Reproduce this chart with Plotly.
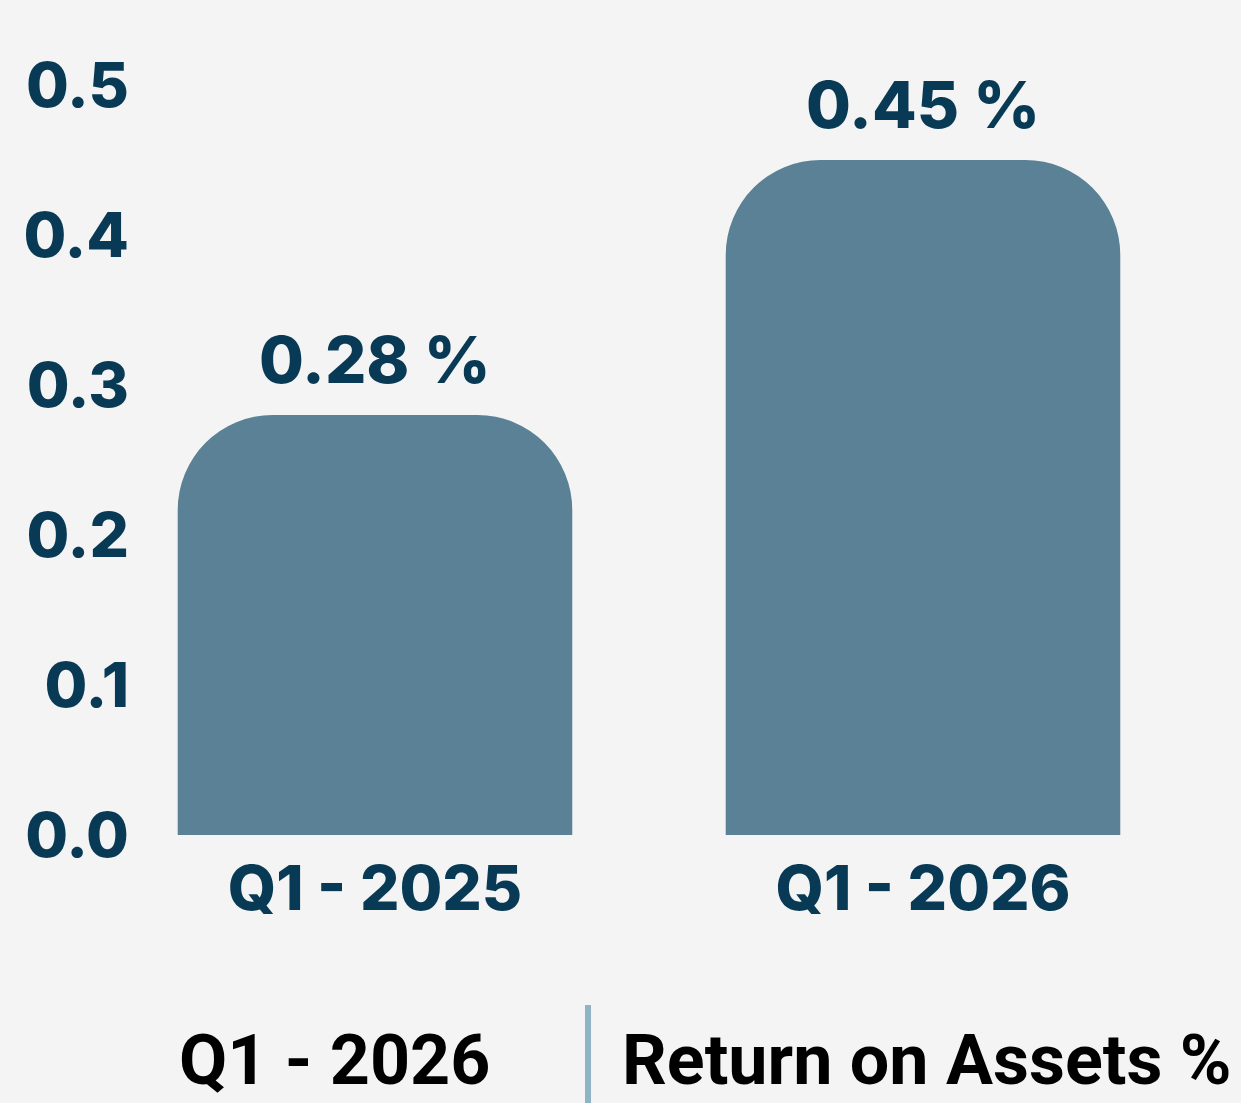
import plotly.graph_objects as go

categories = ["Q1 - 2025", "Q1 - 2026"]
values = [0.28, 0.45]
value_labels = ["0.28 %", "0.45 %"]
y_ticks = [0.0, 0.1, 0.2, 0.3, 0.4, 0.5]
y_tick_labels = ["0.0", "0.1", "0.2", "0.3", "0.4", "0.5"]
footer_period = "Q1 - 2026"
footer_metric = "Return on Assets %"

NAVY = "#083a55"
BAR = "#5a8196"
BG = "#f4f4f4"
NUM_FONT = "Inter"

fig = go.Figure()
fig.add_trace(go.Bar(
    x=[0, 1], y=values, width=0.72,
    marker=dict(color=BAR, line=dict(width=0)),
    hoverinfo="skip",
))

for i, (v, lab) in enumerate(zip(values, value_labels)):
    fig.add_annotation(
        x=i, y=v, xref="x", yref="y", text=lab, showarrow=False,
        yanchor="bottom", yshift=14,
        font=dict(family=NUM_FONT, size=65, color=NAVY, weight=800),
    )

fig.add_annotation(
    x=0.2135, y=-0.288, xref="x", yref="paper", text=footer_period,
    showarrow=False, xanchor="right", yanchor="middle",
    font=dict(family="Roboto", size=70, color="#000000", weight=700),
)
fig.add_annotation(
    x=0.447, y=-0.288, xref="x", yref="paper", text=footer_metric,
    showarrow=False, xanchor="left", yanchor="middle",
    font=dict(family="Roboto", size=70, color="#000000", weight=700),
)
fig.add_shape(
    type="line", xref="x", yref="paper",
    x0=0.3887, x1=0.3887, y0=-0.218, y1=-0.36,
    line=dict(color="#8fb3c4", width=6),
)

fig.update_layout(
    width=1241, height=1103,
    margin=dict(l=140, r=44, t=55, b=268),
    paper_bgcolor=BG, plot_bgcolor="rgba(0,0,0,0)",
    showlegend=False,
    barcornerradius=95,
    xaxis=dict(
        range=[-0.4288, 1.5], tickmode="array", tickvals=[0, 1],
        ticktext=categories, showgrid=False, zeroline=False, showline=False,
        ticks="", ticklabelstandoff=12,
        tickfont=dict(family=NUM_FONT, size=62, color=NAVY, weight=800),
    ),
    yaxis=dict(
        range=[0, 0.52], tickmode="array", tickvals=y_ticks,
        ticktext=y_tick_labels, showgrid=False, zeroline=False, showline=False,
        ticks="", ticklabelstandoff=10,
        tickfont=dict(family=NUM_FONT, size=62, color=NAVY, weight=800),
    ),
)

fig.write_html(
    "out.html",
    config={"displayModeBar": False},
    post_script="document.body.style.margin='0';document.body.style.background='%s';" % BG,
)
